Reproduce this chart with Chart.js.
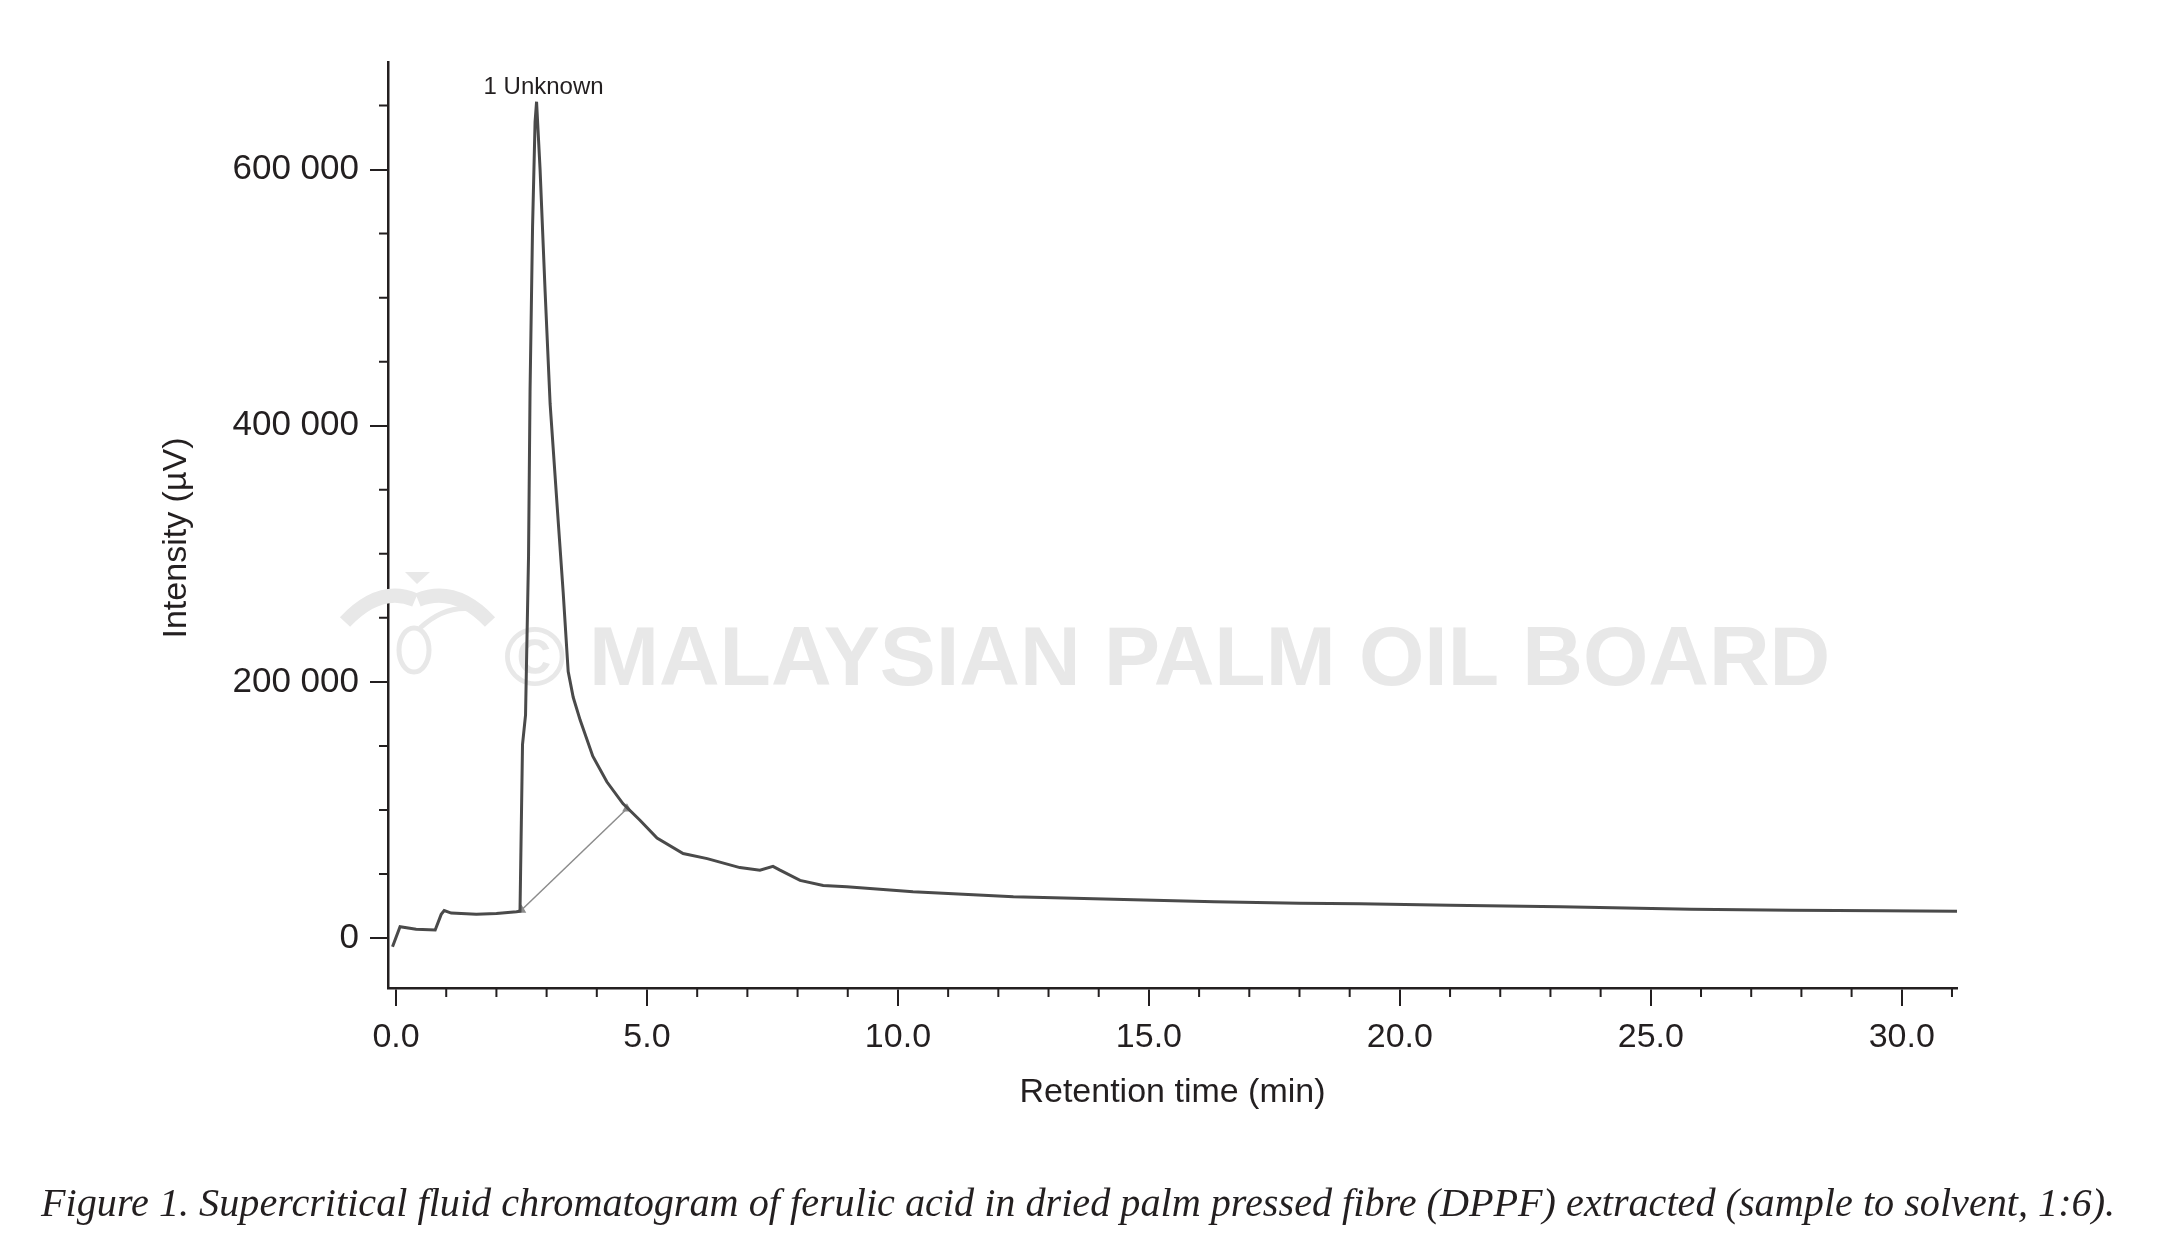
<!DOCTYPE html>
<html>
<head>
<meta charset="utf-8">
<title>Supercritical fluid chromatogram</title>
<script src="https://cdn.jsdelivr.net/npm/chart.js@4.4.0/dist/chart.umd.min.js"></script>
<style>
  html, body { margin: 0; padding: 0; background: #fff; }
  #wrap { position: relative; width: 2164px; height: 1260px; overflow: hidden; }
  #chart { position: absolute; left: 0; top: 0; }
  #caption {
    position: absolute; left: 41px; top: 1180px;
    font-family: 'Liberation Serif', 'Times New Roman', serif;
    font-style: italic; color: #231f20; white-space: nowrap; line-height: 1;
  }
</style>
</head>
<body>
<div id="wrap">
  <canvas id="chart" width="2164" height="1260"></canvas>
  <div id="caption"></div>
</div>
<script>
// ---- data ----
var timeMin = [-0.07, 0.08, 0.40, 0.78, 0.90, 0.96, 1.10, 1.60, 2.00, 2.40, 2.47,
  2.52, 2.58, 2.64, 2.67, 2.72, 2.77, 2.80, 2.87, 2.97, 3.07, 3.23, 3.33, 3.43,
  3.53, 3.67, 3.92, 4.20, 4.52, 4.86, 5.20, 5.72, 6.20, 6.85, 7.25, 7.51, 7.65,
  8.05, 8.51, 8.98, 10.3, 12.3, 14.3, 16.3, 18.0, 19.2, 21.0, 23.2, 25.8, 27.8,
  29.6, 31.1];
var intensityUV = [-6800, 8800, 6800, 6300, 18500, 21500, 19500, 18500, 19200, 20500, 21000,
  151000, 174000, 298000, 427000, 555000, 637000, 653000, 600000, 505000, 417000, 326000, 270000, 208000,
  188000, 170000, 142000, 122000, 105000, 92000, 78000, 66000, 62000, 55000, 53000, 56000, 53000,
  45000, 41000, 40000, 36200, 32300, 30200, 28400, 27100, 26800, 25700, 24500, 22400, 21800,
  21300, 21000];

// integration baseline of peak 1
var baselineTime = [2.50, 4.60];
var baselineUV = [21900, 101000];

var xTickValues = [0, 5, 10, 15, 20, 25, 30];
var yTickValues = [0, 200000, 400000, 600000];
var yTickLabels = ['0', '200 000', '400 000', '600 000'];

var peakLabel = '1 Unknown';
var xTitle = 'Retention time (min)';
var yTitle = 'Intensity (\u00b5V)';
var watermarkText = '\u00a9 MALAYSIAN PALM OIL BOARD';
var captionText = 'Figure 1. Supercritical fluid chromatogram of ferulic acid in dried palm pressed fibre (DPPF) extracted (sample to solvent, 1:6).';

var ink = '#231f20';
var sans = "'Liberation Sans', Arial, sans-serif";
Chart.defaults.font.family = sans;
Chart.defaults.color = ink;

function toPoints(xs, ys) {
  return xs.map(function (t, i) { return { x: t, y: ys[i] }; });
}

// small unlabeled ticks between the labelled ones
var minorTicks = {
  id: 'minorTicks',
  afterDraw: function (chart) {
    var ctx = chart.ctx, x = chart.scales.x, y = chart.scales.y, area = chart.chartArea;
    ctx.save();
    ctx.strokeStyle = ink;
    ctx.lineWidth = 2;
    ctx.beginPath();
    for (var v = 1; v <= x.max; v++) {
      if (v % 5 === 0) continue;
      var px = x.getPixelForValue(v);
      ctx.moveTo(px, area.bottom);
      ctx.lineTo(px, area.bottom + 9);
    }
    for (var w = 50000; w <= y.max; w += 50000) {
      if (w % 200000 === 0) continue;
      var py = y.getPixelForValue(w);
      ctx.moveTo(area.left, py);
      ctx.lineTo(area.left - 9, py);
    }
    ctx.stroke();
    ctx.restore();
  }
};

// y axis title, a little below the middle as in the original
var yAxisTitle = {
  id: 'yAxisTitle',
  afterDraw: function (chart) {
    var ctx = chart.ctx, area = chart.chartArea;
    ctx.save();
    ctx.translate(177, (area.top + area.bottom) / 2 + 13);
    ctx.rotate(-Math.PI / 2);
    ctx.fillStyle = ink;
    ctx.font = '34px ' + sans;
    ctx.textAlign = 'center';
    ctx.textBaseline = 'middle';
    ctx.fillText(yTitle, 0, 0);
    ctx.restore();
  }
};

// faint copyright stamp (logo + text) behind the trace
var watermark = {
  id: 'watermark',
  beforeDatasetsDraw: function (chart) {
    var ctx = chart.ctx;
    ctx.save();
    ctx.fillStyle = '#e8e8e8';
    ctx.strokeStyle = '#e8e8e8';
    // palm logo
    ctx.beginPath();
    ctx.moveTo(405, 572); ctx.lineTo(430, 572); ctx.lineTo(417, 584); ctx.closePath();
    ctx.fill();
    ctx.lineWidth = 14;
    ctx.beginPath();
    ctx.moveTo(345, 622); ctx.quadraticCurveTo(380, 585, 415, 600);
    ctx.moveTo(490, 622); ctx.quadraticCurveTo(455, 585, 418, 600);
    ctx.stroke();
    ctx.lineWidth = 5;
    ctx.beginPath();
    ctx.ellipse(414, 650, 15, 22, 0, 0, Math.PI * 2);
    ctx.stroke();
    ctx.beginPath();
    ctx.moveTo(420, 628); ctx.quadraticCurveTo(450, 600, 485, 612);
    ctx.stroke();
    ctx.font = "bold 84px " + sans;
    ctx.textAlign = 'center';
    ctx.textBaseline = 'middle';
    ctx.fillText(watermarkText, 1167, 662);
    ctx.restore();
  }
};

// peak name above the apex
var peakName = {
  id: 'peakName',
  afterDatasetsDraw: function (chart) {
    var ctx = chart.ctx, x = chart.scales.x, y = chart.scales.y;
    var i = intensityUV.indexOf(Math.max.apply(null, intensityUV));
    ctx.save();
    ctx.fillStyle = ink;
    ctx.font = '24px ' + sans;
    ctx.textAlign = 'center';
    ctx.textBaseline = 'middle';
    ctx.fillText(peakLabel, x.getPixelForValue(timeMin[i]) + 7, y.getPixelForValue(intensityUV[i]) - 14);
    ctx.restore();
  }
};

var ctx = document.getElementById('chart').getContext('2d');
var chart = new Chart(ctx, {
  type: 'line',
  data: {
    datasets: [{
      data: toPoints(timeMin, intensityUV),
      borderColor: '#4a4a4a',
      borderWidth: 3,
      pointRadius: 0,
      tension: 0
    }, {
      data: toPoints(baselineTime, baselineUV),
      borderColor: '#8c8c8c',
      borderWidth: 1.5,
      pointRadius: 4,
      pointStyle: 'triangle',
      pointBackgroundColor: '#8c8c8c',
      pointBorderColor: '#8c8c8c',
      tension: 0
    }]
  },
  options: {
    responsive: false,
    animation: false,
    devicePixelRatio: 1,
    layout: { padding: { left: 159, top: 62, right: 207, bottom: 147 } },
    plugins: { legend: { display: false }, tooltip: { enabled: false } },
    scales: {
      x: {
        type: 'linear',
        min: -0.16,
        max: 31.1,
        afterBuildTicks: function (s) { s.ticks = xTickValues.map(function (v) { return { value: v }; }); },
        afterFit: function (s) { s.height = 125; },
        ticks: {
          padding: 11,
          maxRotation: 0,
          font: { size: 34 },
          color: ink,
          callback: function (v) { return Number(v).toFixed(1); }
        },
        grid: { drawOnChartArea: false, tickLength: 18, color: ink, lineWidth: 2 },
        border: { display: true, color: ink, width: 2.5 },
        title: { display: true, text: xTitle, font: { size: 34 }, color: ink, padding: 0 }
      },
      y: {
        type: 'linear',
        min: -39000,
        max: 684000,
        afterBuildTicks: function (s) { s.ticks = yTickValues.map(function (v) { return { value: v }; }); },
        afterFit: function (s) { s.width = 229; },
        ticks: {
          padding: 11,
          font: { size: 35 },
          color: ink,
          callback: function (v, i) { return yTickLabels[i]; }
        },
        grid: { drawOnChartArea: false, tickLength: 18, color: ink, lineWidth: 2 },
        border: { display: true, color: ink, width: 2.5 },
        title: { display: false }
      }
    }
  },
  plugins: [watermark, minorTicks, peakName, yAxisTitle]
});

// caption under the figure, sized to the same width as the original
var cap = document.getElementById('caption');
cap.textContent = captionText;
var m = document.createElement('canvas').getContext('2d');
m.font = "italic 100px 'Liberation Serif', 'Times New Roman', serif";
var fs = 100 * 2077 / m.measureText(captionText).width;
cap.style.fontSize = fs.toFixed(1) + 'px';
cap.style.top = (1203 - 0.507 * fs).toFixed(1) + 'px';
</script>
</body>
</html>
